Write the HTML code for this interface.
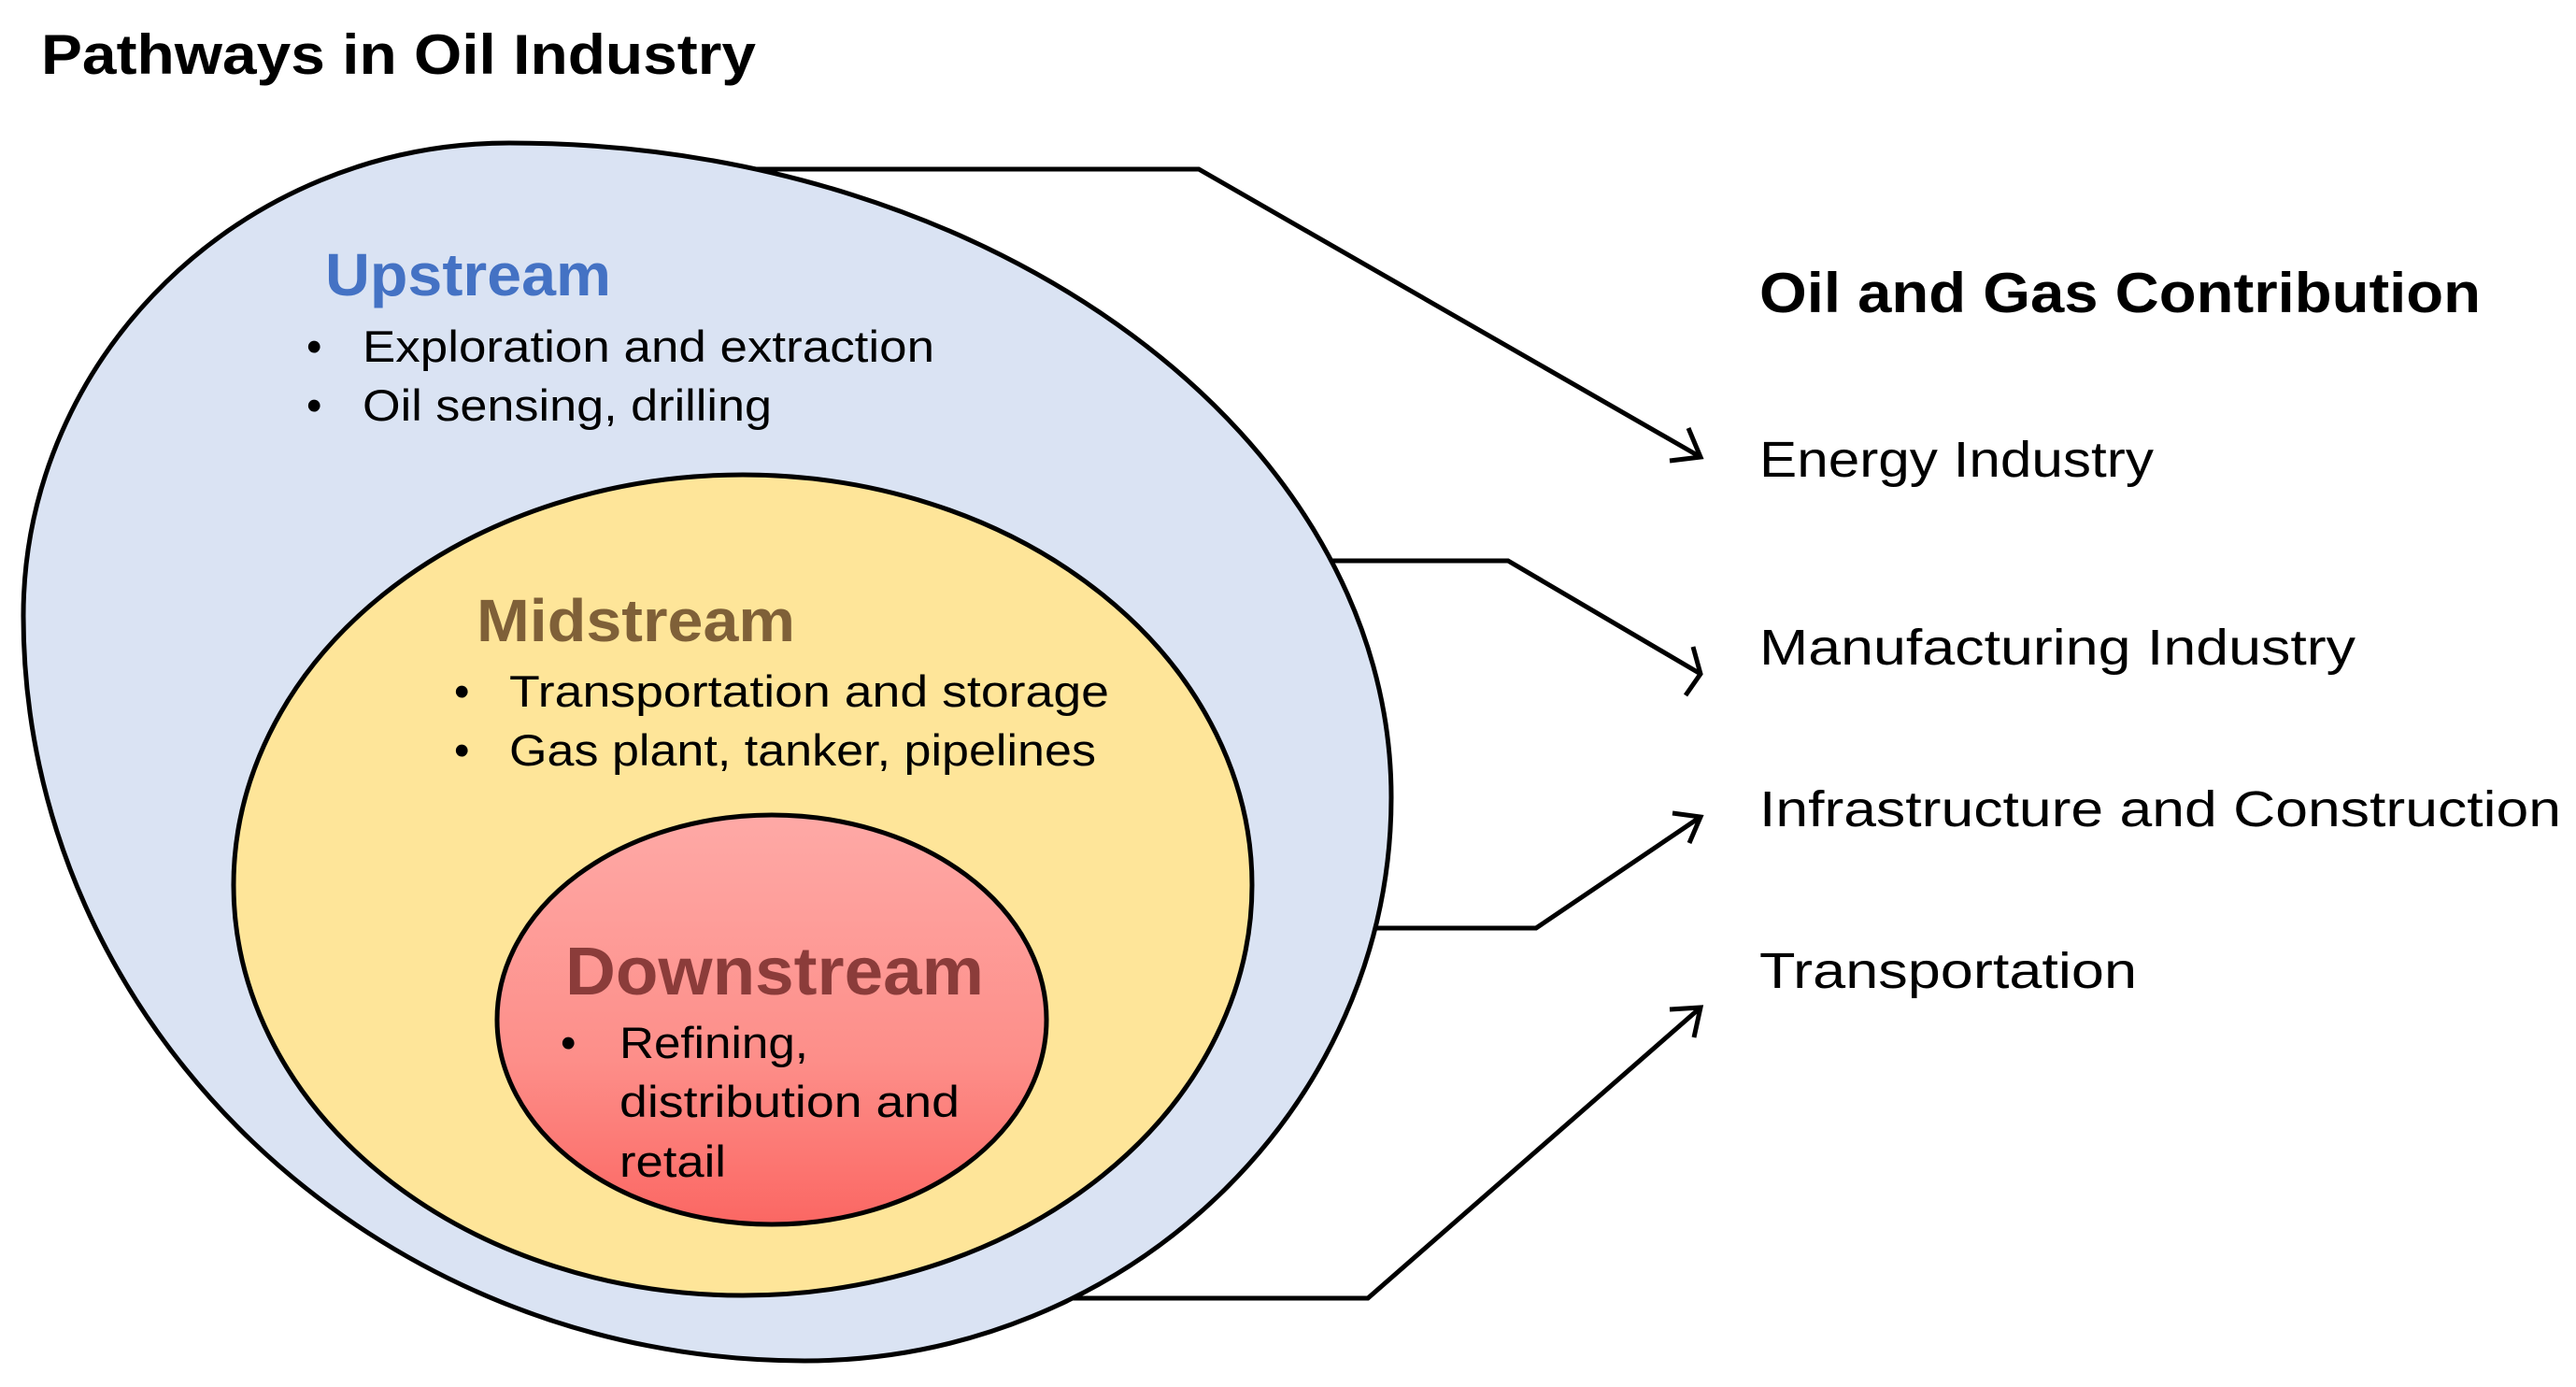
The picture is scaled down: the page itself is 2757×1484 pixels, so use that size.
<!DOCTYPE html>
<html><head><meta charset="utf-8"><style>
html,body{margin:0;padding:0;background:#fff;width:2757px;height:1484px;overflow:hidden;}
svg{display:block;}
text{font-family:"Liberation Sans",Arial,sans-serif;}
</style></head><body>
<svg width="2757" height="1484" viewBox="0 0 2757 1484" xmlns="http://www.w3.org/2000/svg">
<defs>
<linearGradient id="rg" x1="0" y1="0" x2="0" y2="1">
<stop offset="0" stop-color="#fea9a6"/><stop offset="0.6" stop-color="#fd8e89"/><stop offset="1" stop-color="#fb6763"/>
</linearGradient>
</defs>
<text x="44" y="79" font-size="60" font-weight="bold" textLength="765" lengthAdjust="spacingAndGlyphs">Pathways in Oil Industry</text>

<g fill="none" stroke="#000" stroke-width="5" stroke-linejoin="miter">
<polyline points="791,181 1283,181 1820,489"/>
<polyline points="1420,600 1614,600 1820,721"/>
<polyline points="1468,993 1644,993 1820,874"/>
<polyline points="1143,1389 1464,1389 1820,1078"/>
</g>
<g fill="none" stroke="#000" stroke-width="5">
<polyline points="1807,458 1820,489 1787,493"/>
<polyline points="1812,692 1820,721 1804,744"/>
<polyline points="1808,902 1820,874 1790,870"/>
<polyline points="1813,1110 1820,1078 1787,1080"/>
</g>

<path d="M545,153 C1064,153 1489,468 1489,853 C1489,1185 1206,1456 861,1456 C401,1456 25,1097 25,659 C25,381 259,153 545,153 Z" fill="#dae3f3" stroke="#000" stroke-width="5"/>
<ellipse cx="795" cy="947" rx="545" ry="439" fill="#fee599" stroke="#000" stroke-width="5"/>
<ellipse cx="826" cy="1091" rx="294" ry="219" fill="url(#rg)" stroke="#000" stroke-width="5"/>

<text x="348" y="316" font-size="64" font-weight="bold" fill="#4472c4" textLength="306" lengthAdjust="spacingAndGlyphs">Upstream</text>
<g font-size="47" fill="#000">
<text x="328" y="387">•</text><text x="388" y="387" textLength="612" lengthAdjust="spacingAndGlyphs">Exploration and extraction</text>
<text x="328" y="450">•</text><text x="388" y="450" textLength="438" lengthAdjust="spacingAndGlyphs">Oil sensing, drilling</text>
</g>
<text x="510" y="686" font-size="64" font-weight="bold" fill="#7f6038" textLength="341" lengthAdjust="spacingAndGlyphs">Midstream</text>
<g font-size="47" fill="#000">
<text x="486" y="756">•</text><text x="545" y="756" textLength="642" lengthAdjust="spacingAndGlyphs">Transportation and storage</text>
<text x="486" y="819">•</text><text x="545" y="819" textLength="628" lengthAdjust="spacingAndGlyphs">Gas plant, tanker, pipelines</text>
</g>
<text x="605" y="1064" font-size="72" font-weight="bold" fill="#8b3c3a" textLength="448" lengthAdjust="spacingAndGlyphs">Downstream</text>
<g font-size="47" fill="#000">
<text x="600" y="1132">•</text><text x="663" y="1132" textLength="202" lengthAdjust="spacingAndGlyphs">Refining,</text>
<text x="663" y="1195" textLength="364" lengthAdjust="spacingAndGlyphs">distribution and</text>
<text x="663" y="1259" textLength="114" lengthAdjust="spacingAndGlyphs">retail</text>
</g>

<text x="1883" y="334" font-size="60" font-weight="bold" textLength="772" lengthAdjust="spacingAndGlyphs">Oil and Gas Contribution</text>
<g font-size="54" fill="#000">
<text x="1883" y="510" textLength="422" lengthAdjust="spacingAndGlyphs">Energy Industry</text>
<text x="1883" y="711" textLength="638" lengthAdjust="spacingAndGlyphs">Manufacturing Industry</text>
<text x="1883" y="884" textLength="858" lengthAdjust="spacingAndGlyphs">Infrastructure and Construction</text>
<text x="1883" y="1057" textLength="404" lengthAdjust="spacingAndGlyphs">Transportation</text>
</g>
</svg>
</body></html>
